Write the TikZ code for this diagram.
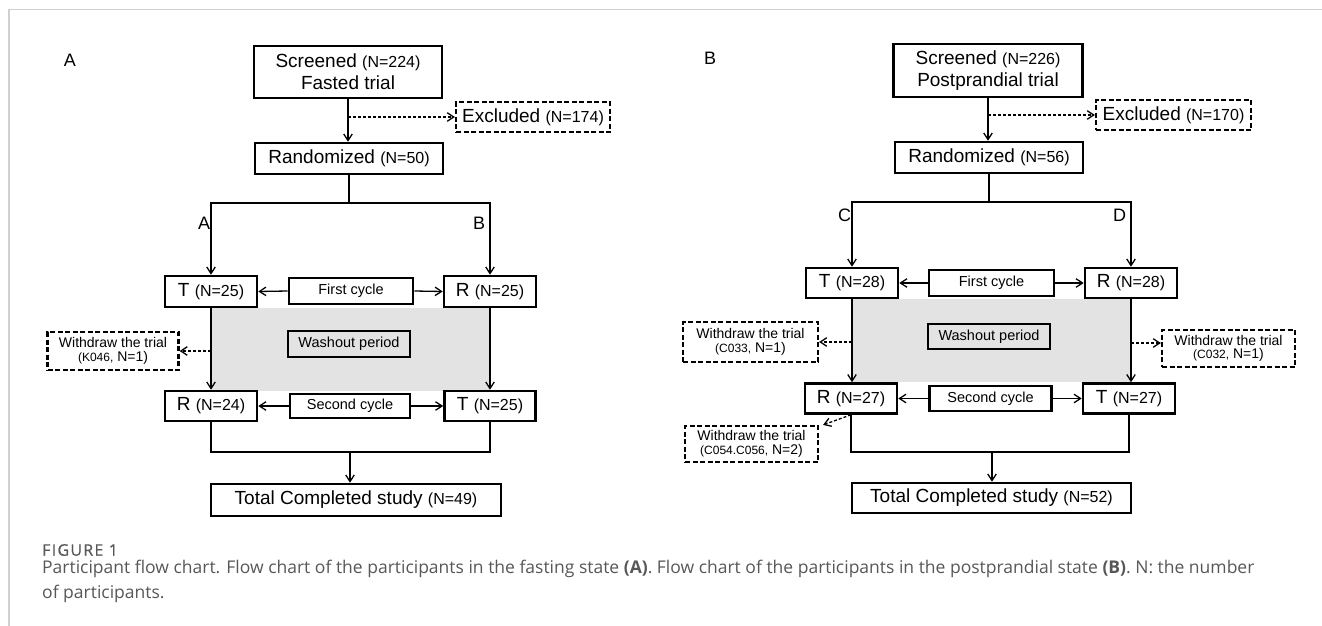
\documentclass[tikz,border=0pt]{standalone}
\usepackage{fontspec}
\setmainfont{Liberation Sans}
\newfontfamily\capfont{Open Sans}
\newfontfamily\capheadfont[FakeBold=0.6, LetterSpace=8]{Open Sans}
\usetikzlibrary{arrows.meta}
\definecolor{washgray}{HTML}{E3E3E3}
\definecolor{framegray}{HTML}{D0D0D0}
\definecolor{capgray}{HTML}{575757}
\newcommand{\ncount}[1]{{\fontsize{16}{18}\selectfont #1}}
\newcommand{\idsmall}[1]{{\fontsize{12}{14}\selectfont #1}}
\tikzset{
	box/.style={draw, line width=2.6pt, inner sep=0pt, font=\fontsize{19}{22}\selectfont, align=center},
	smallbox/.style={box, font=\fontsize{14.5}{16}\selectfont},
	dashbox/.style={draw, line width=2.2pt, dash pattern=on 5pt off 2.5pt, inner sep=0pt, font=\fontsize{14}{13.5}\selectfont, align=center},
	conn/.style={line width=1.3pt},
	link/.style={conn, -{Straight Barb[length=6.5pt,width=8.5pt]}},
	dlink/.style={link, dash pattern=on 3pt off 2pt},
	branch/.style={font=\fontsize{18}{20}\selectfont},
}
\begin{document}
\begin{tikzpicture}[x=1pt,y=-1pt]
	\useasboundingbox (0,0) rectangle (1322,626);
	\draw[framegray, line width=1.4pt] (1322,9.5) -- (9,9.5) -- (9,626);
	%% fig a
	\node[branch] (labA) at (70,60) {A};
	\node[box, minimum width=188, minimum height=52] (scrA) at (348,72) {Screened \ncount{(N=224)}\\Fasted trial};
	\node[dashbox, minimum width=154, minimum height=30, font=\fontsize{19}{22}\selectfont] (excA) at (533,117) {Excluded \ncount{(N=174)}};
	\node[box, minimum width=188, minimum height=31] (randA) at (349,158.5) {Randomized \ncount{(N=50)}};
	\node[box, minimum width=92, minimum height=31] (tA1) at (211,291.5) {T \ncount{(N=25)}};
	\node[smallbox, minimum width=124, minimum height=26] (cycA1) at (351,291) {First cycle};
	\node[box, minimum width=92, minimum height=31] (rA1) at (490,291.5) {R \ncount{(N=25)}};
	% washout
	\fill[washgray] (tA1.south) rectangle (490,391);
	\node[smallbox, fill=washgray, minimum width=122, minimum height=26] (washA) at (349,344) {Washout period};
	\node[dashbox, minimum width=131, minimum height=38] (wdA) at (113,351) {Withdraw the trial\\\idsmall{(K046,} N=1)};
	\node[box, minimum width=92, minimum height=30] (rA2) at (211,406) {R \ncount{(N=24)}};
	\node[smallbox, minimum width=120, minimum height=24] (cycA2) at (350,406) {Second cycle};
	\node[box, minimum width=91, minimum height=30] (tA2) at (490,406) {T \ncount{(N=25)}};
	\node[box, minimum width=290, minimum height=32] (totA) at (356,500) {Total Completed study \ncount{(N=49)}};
	% connectors
	\draw[link] (scrA.south) -- (scrA.south |- randA.north);
	\draw[dlink] (scrA.south |- excA.west) -- (excA.west);
	\coordinate (sA) at (349,203);
	\draw[conn] (randA.south) -- (sA);
	\draw[link] (sA) -| (tA1.north) node[branch, pos=0.64, left=-3pt] {A};
	\draw[link] (sA) -| (rA1.north) node[branch, pos=0.64, left=1pt] {B};
	\draw[link] (cycA1.west) -- (tA1.east);
	\draw[link] (cycA1.east) -- (rA1.west);
	\draw[link] (tA1.south) -- (rA2.north);
	\draw[link] (rA1.south) -- (tA2.north);
	\draw[dlink] (tA1.south |- wdA.east) -- (wdA.east);
	\draw[link] (cycA2.west) -- (rA2.east);
	\draw[link] (cycA2.east) -- (tA2.west);
	\coordinate (mA) at (350,452);
	\draw[conn] (rA2.south) |- (mA) -| (tA2.south);
	\draw[link] (mA) -- (mA |- totA.north);
	%% fig b
	\node[branch] (labB) at (710,58) {B};
	\node[box, minimum width=189, minimum height=53] (scrB) at (988,70.5) {Screened \ncount{(N=226)}\\Postprandial trial};
	\node[dashbox, minimum width=155, minimum height=30, font=\fontsize{19}{22}\selectfont] (excB) at (1173.5,115) {Excluded \ncount{(N=170)}};
	\node[box, minimum width=188, minimum height=31] (randB) at (989,157.5) {Randomized \ncount{(N=56)}};
	\node[box, minimum width=92, minimum height=30] (tB1) at (852,283) {T \ncount{(N=28)}};
	\node[smallbox, minimum width=125, minimum height=26] (cycB1) at (991.5,283) {First cycle};
	\node[box, minimum width=92, minimum height=30] (rB1) at (1131,283) {R \ncount{(N=28)}};
	% washout
	\fill[washgray] (tB1.south) rectangle (1131,382);
	\node[smallbox, fill=washgray, minimum width=122, minimum height=25] (washB) at (989,336.5) {Washout period};
	\node[dashbox, minimum width=135, minimum height=40] (wdB1) at (750.5,342) {Withdraw the trial\\\idsmall{(C033,} N=1)};
	\node[dashbox, minimum width=133, minimum height=37] (wdB2) at (1228.5,348.5) {Withdraw the trial\\\idsmall{(C032,} N=1)};
	\node[box, minimum width=92, minimum height=30] (rB2) at (851,398.5) {R \ncount{(N=27)}};
	\node[smallbox, minimum width=122, minimum height=25] (cycB2) at (990.5,398.5) {Second cycle};
	\node[box, minimum width=92, minimum height=30] (tB2) at (1129,398.5) {T \ncount{(N=27)}};
	\node[dashbox, minimum width=133, minimum height=36] (wdB3) at (751.5,444) {Withdraw the trial\\\idsmall{(C054.C056,} N=2)};
	\node[box, minimum width=279, minimum height=30] (totB) at (991.5,498) {Total Completed study \ncount{(N=52)}};
	% connectors
	\draw[link] (scrB.south) -- (scrB.south |- randB.north);
	\draw[dlink] (scrB.south |- excB.west) -- (excB.west);
	\coordinate (sB) at (989,202);
	\draw[conn] (randB.south) -- (sB);
	\draw[link] (sB) -| (tB1.north) node[branch, pos=0.6, left=-3pt] {C};
	\draw[link] (sB) -| (rB1.north) node[branch, pos=0.6, left=1pt] {D};
	\draw[link] (cycB1.west) -- (tB1.east);
	\draw[link] (cycB1.east) -- (rB1.west);
	\draw[link] (tB1.south) -- (tB1.south |- rB2.north);
	\draw[link] (rB1.south) -- (rB1.south |- tB2.north);
	\draw[dlink] (tB1.south |- wdB1.east) -- (wdB1.east);
	\draw[dlink] (rB1.south |- 0,343) -- ([yshift=5.5pt]wdB2.west);
	\draw[link] (cycB2.west) -- (rB2.east);
	\draw[link] (cycB2.east) -- (tB2.west);
	\draw[dlink] (rB2.south) -- ([xshift=4pt]wdB3.north east);
	\coordinate (mB) at (992,452);
	\draw[conn] (rB2.south) |- (mB) -| (tB2.south);
	\draw[link] (mB) -- (mB |- totB.north);
	%% caption
	\node[anchor=west, text=capgray, inner sep=0pt, font=\capheadfont\fontsize{16}{18}\selectfont] (figno) at (42,550) {FIGURE 1};
	\node[anchor=north west, text=capgray, align=left, inner sep=0pt, font=\capfont\fontsize{17.5}{25}\selectfont] (capt) at (42,560) {Participant flow chart. Flow chart of the participants in the fasting state \textbf{(A)}. Flow chart of the participants in the postprandial state \textbf{(B)}. N: the number\\of participants.};
\end{tikzpicture}
\end{document}
